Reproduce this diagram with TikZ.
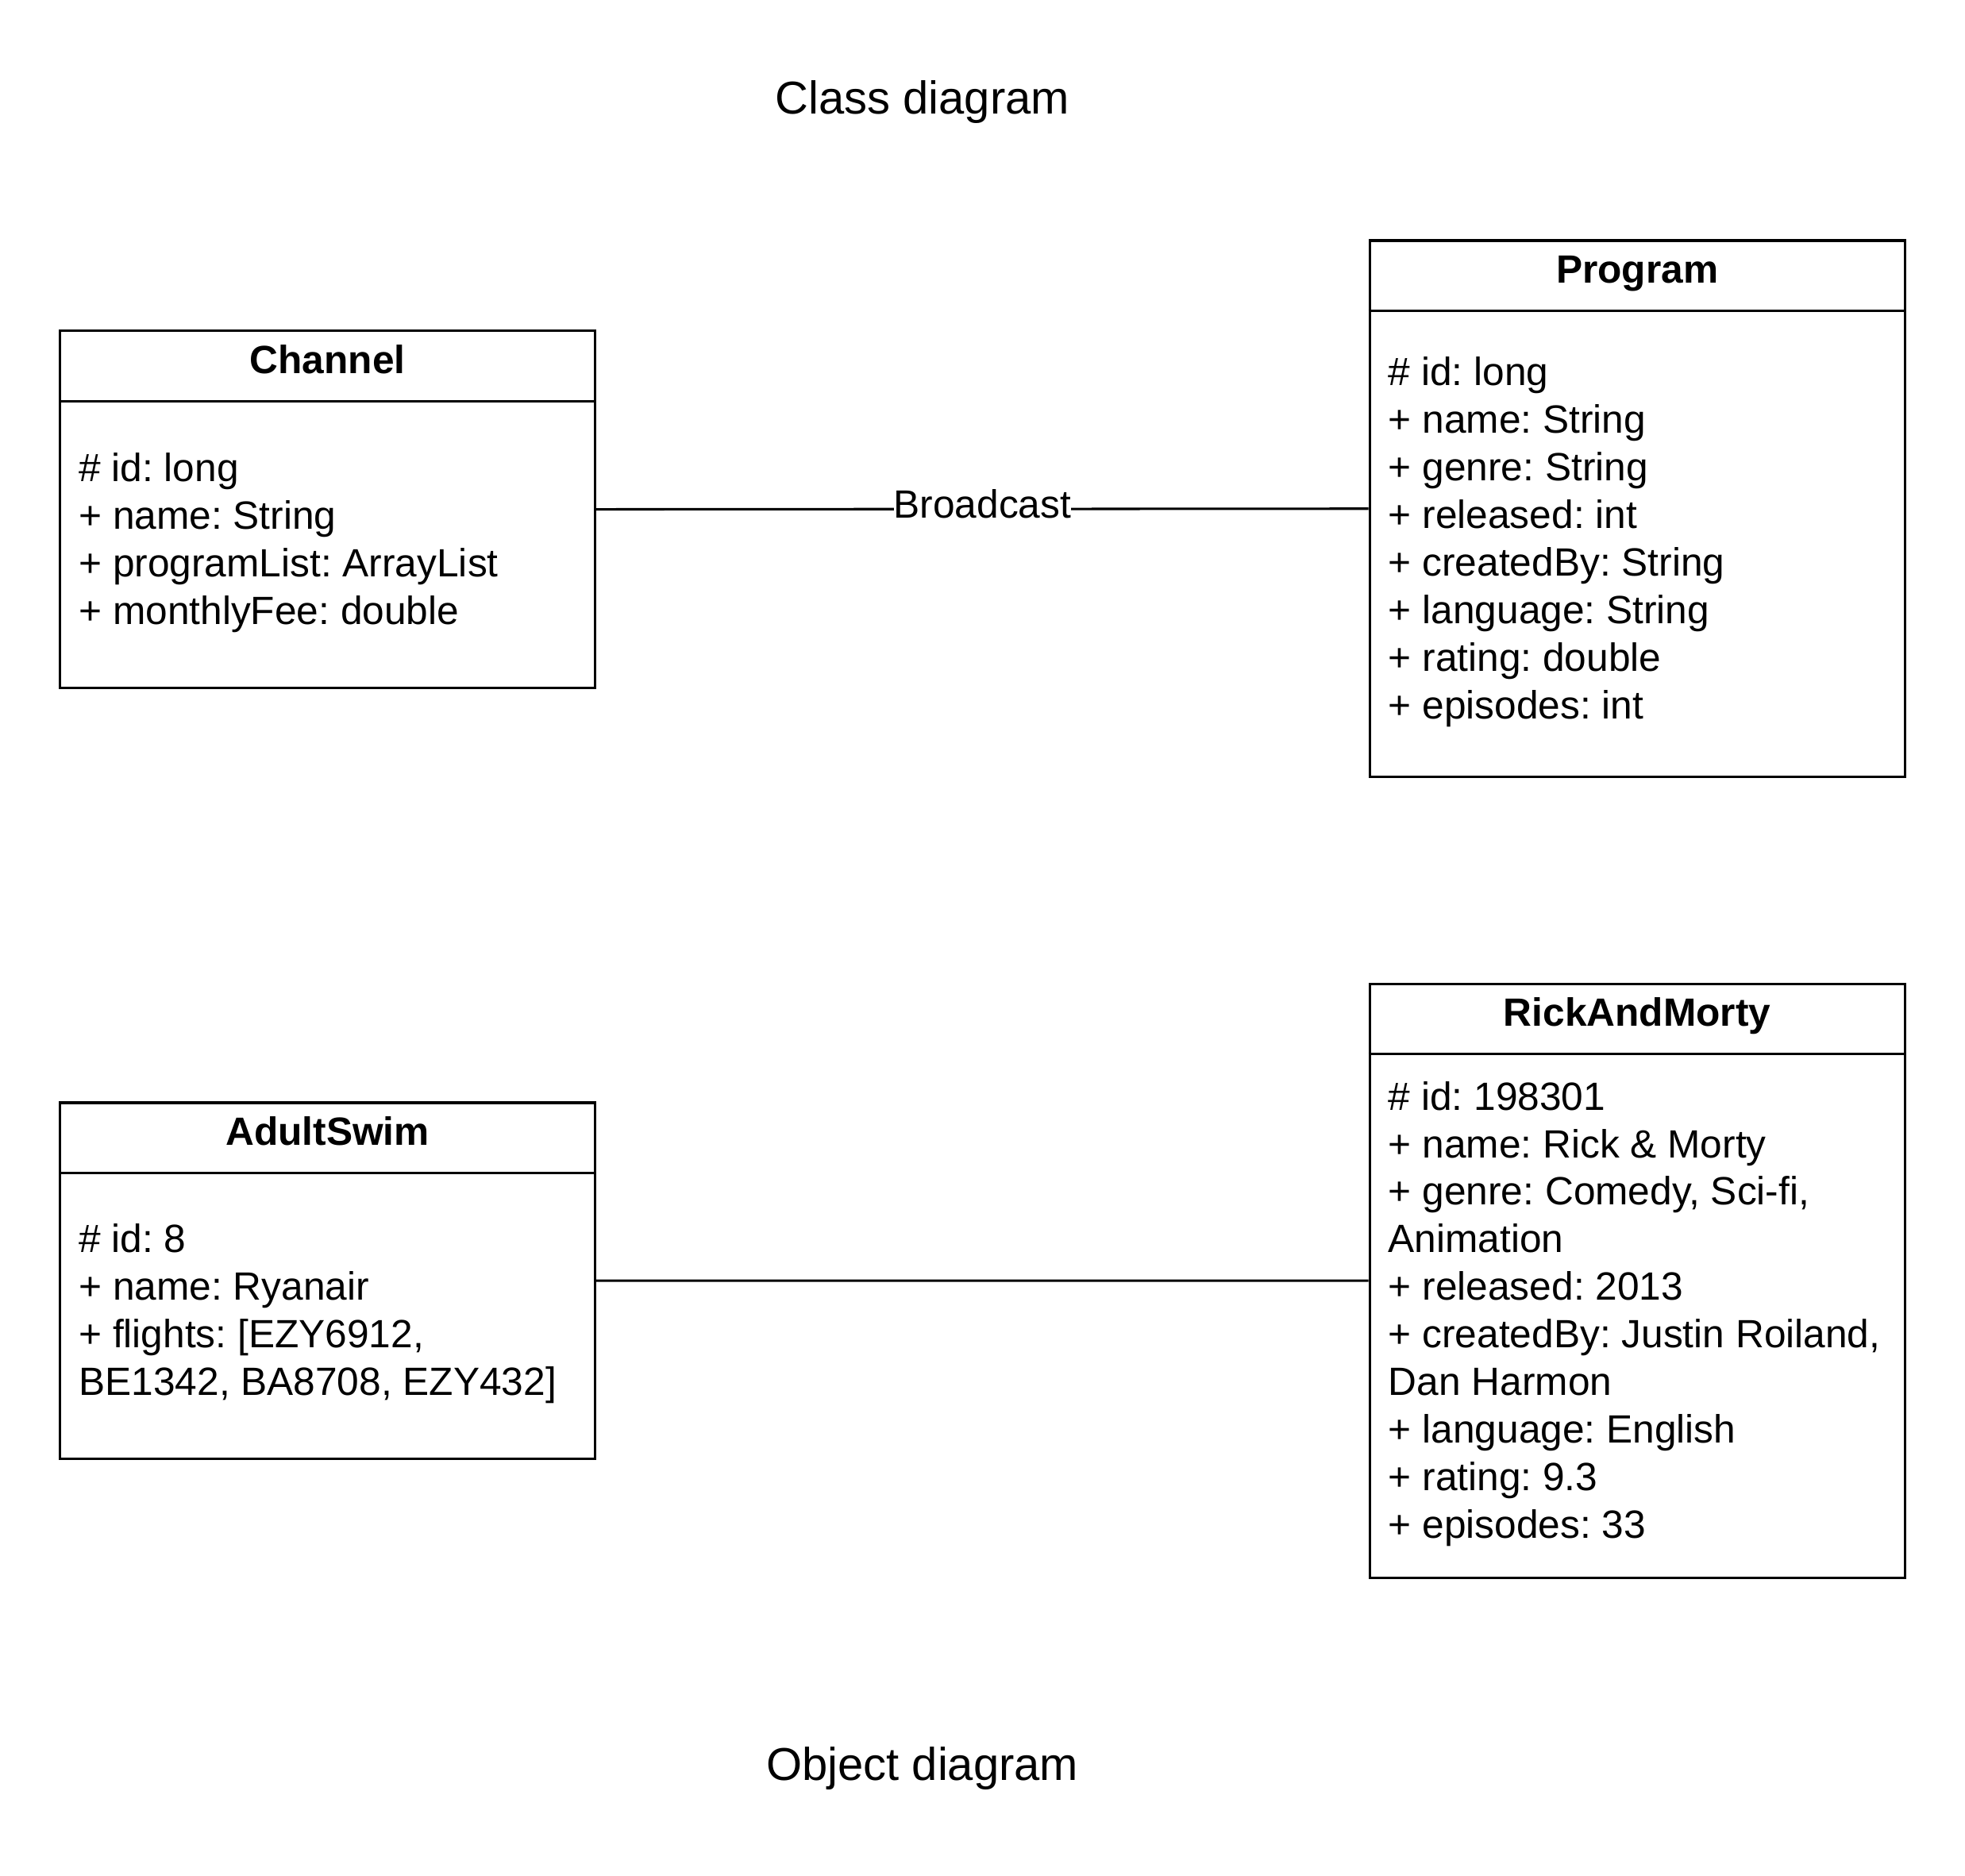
\documentclass[tikz,border=0pt]{standalone}
\usepackage{fontspec}
\setmainfont{Liberation Sans}
\frenchspacing
\usetikzlibrary{calc}

\begin{document}
\begin{tikzpicture}[x=0.02cm,y=-0.02cm,line width=1.1pt,
	box/.style={draw,rectangle,anchor=north west,minimum width=8.54cm,inner sep=0pt},
	classname/.style={anchor=base,inner sep=0pt,font=\fontsize{17.9}{21.6}\selectfont\bfseries},
	attrs/.style={anchor=west,align=left,inner sep=0pt,font=\fontsize{17.9}{21.6}\selectfont},
	diagtitle/.style={anchor=base,inner sep=0pt,font=\fontsize{20.9}{25}\selectfont}] %1px = 0.02cm
	\newcommand{\headh}{57} %header height
	\useasboundingbox (0,0) rectangle (1568,1497);
	\node[diagtitle] (classtitle) at (736,91) {Class diagram};
	\node[diagtitle] (objtitle) at (736,1421) {Object diagram};
	% Channel
	\node[box,minimum height=5.70cm] (channel) at (47,263) {};
	\draw ($(channel.north west)+(0,\headh)$) -- ($(channel.north east)+(0,\headh)$);
	\node[classname] (channelname) at ($(channel.north)+(0,35)$) {Channel};
	\node[attrs] (channelattrs) at ($(channel.west)+(15,\headh/2-2)$) {\# id: long\\+ name: String\\+ programList: ArrayList\\+ monthlyFee: double};
	% Program
	\node[box,minimum height=8.56cm] (program) at (1092,191) {};
	\draw ($(program.north west)+(0,\headh)$) -- ($(program.north east)+(0,\headh)$);
	\node[classname] (programname) at ($(program.north)+(0,35)$) {Program};
	\node[attrs] (programattrs) at ($(program.west)+(15,\headh/2-2)$) {\# id: long\\+ name: String\\+ genre: String\\+ released: int\\+ createdBy: String\\+ language: String\\+ rating: double\\+ episodes: int};
	% AdultSwim
	\node[box,minimum height=5.68cm] (adultswim) at (47,879) {};
	\draw ($(adultswim.north west)+(0,\headh)$) -- ($(adultswim.north east)+(0,\headh)$);
	\node[classname] (adultswimname) at ($(adultswim.north)+(0,35)$) {AdultSwim};
	\node[attrs] (adultswimattrs) at ($(adultswim.west)+(15,\headh/2-2)$) {\# id: 8\\+ name: Ryanair\\+ flights: [EZY6912,\\BE1342, BA8708, EZY432]};
	% RickAndMorty
	\node[box,minimum height=9.48cm] (rickandmorty) at (1092,784) {};
	\draw ($(rickandmorty.north west)+(0,\headh)$) -- ($(rickandmorty.north east)+(0,\headh)$);
	\node[classname] (rickandmortyname) at ($(rickandmorty.north)+(0,35)$) {RickAndMorty};
	\node[attrs] (rickandmortyattrs) at ($(rickandmorty.west)+(15,\headh/2-2)$) {\# id: 198301\\+ name: Rick \& Morty\\+ genre: Comedy, Sci-fi,\\Animation\\+ released: 2013\\+ createdBy: Justin Roiland,\\Dan Harmon\\+ language: English\\+ rating: 9.3\\+ episodes: 33};
	% links
	\draw (channel.east) -- node[fill=white,inner xsep=0pt,inner ysep=2pt,yshift=0.08cm,font=\fontsize{17.9}{21.6}\selectfont] (broadcast) {Broadcast} (program.west);
	\draw (adultswim.east) -- (rickandmorty.west);
\end{tikzpicture}
\end{document}
